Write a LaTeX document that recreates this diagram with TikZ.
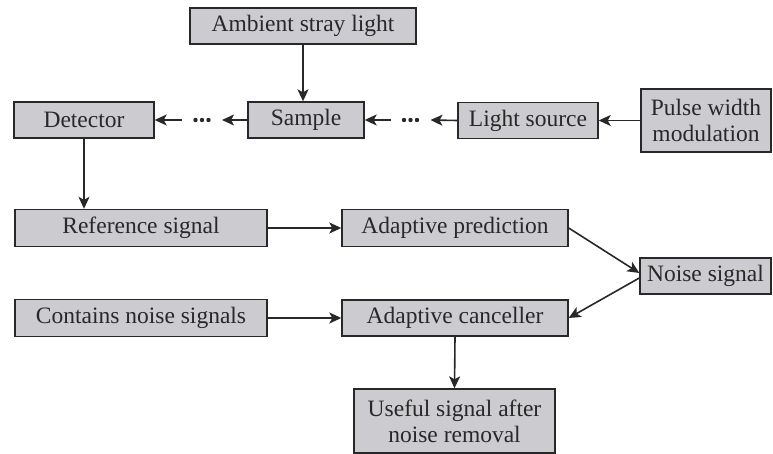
\documentclass[tikz,border=0pt]{standalone}
\usepackage{fontspec}
\setmainfont{Liberation Serif}
\usetikzlibrary{arrows.meta}
\definecolor{boxfill}{RGB}{204,204,208}
\definecolor{ink}{RGB}{40,40,40}
\tikzset{
  box/.style={draw=ink, fill=boxfill, line width=1.4pt, inner sep=0pt, align=center,
    text=ink, font=\fontsize{23.5}{26}\selectfont},
  conn/.style={draw=ink, line width=1.6pt, -{Stealth[length=12pt,width=11pt,inset=3pt]}},
  dotsnode/.style={inner sep=0pt, minimum width=18pt, minimum height=4pt, outer sep=11pt}
}
\begin{document}
\begin{tikzpicture}[x=1pt,y=-1pt]
\useasboundingbox (0,0) rectangle (773,454);
\node[box, minimum width=226, minimum height=36] (amb) at (303,26) {Ambient stray light};
\node[box, minimum width=140, minimum height=36] (det) at (84,120) {Detector};
\node[box, minimum width=116, minimum height=36] (samp) at (306,120) {Sample};
\node[box, minimum width=140, minimum height=36] (ls) at (528,120.5) {Light source};
\node[box, minimum width=130, minimum height=63] (pwm) at (706,120.5) {Pulse width\\modulation};
\node[dotsnode] (d1) at (202,120) {};
\node[dotsnode] (d2) at (410.5,120) {};
\foreach \d in {d1,d2}{
  \fill[ink] (\d.center) circle (2.2);
  \fill[ink] ([xshift=-6.5pt]\d.center) circle (2.2);
  \fill[ink] ([xshift=6.5pt]\d.center) circle (2.2);
}
\node[box, minimum width=252, minimum height=37] (ref) at (141,228) {Reference signal};
\node[box, minimum width=226, minimum height=37] (pred) at (455,228) {Adaptive prediction};
\node[box, minimum width=131, minimum height=36] (noise) at (705.5,276) {Noise signal};
\node[box, minimum width=252, minimum height=37] (cont) at (141,318) {Contains noise signals};
\node[box, minimum width=226, minimum height=36] (canc) at (455,318) {Adaptive canceller};
\node[box, minimum width=201, minimum height=64] (use) at (454.5,421) {Useful signal after\\noise removal};
\draw[conn] (amb.south) -- (amb.south |- samp.north);
\draw[conn] (samp.west) -- (d1.east);
\draw[conn] (d1.west) -- (det.east);
\draw[conn] (ls.west) -- (d2.east);
\draw[conn] (d2.west) -- (samp.east);
\draw[conn] (pwm.west) -- (ls.east);
\draw[conn] (det.south) -- (det.south |- ref.north);
\draw[conn] (ref.east) -- (pred.west);
\draw[conn] (cont.east) -- (canc.west);
\draw[conn] (pred.east) -- ([yshift=3pt]noise.west);
\draw[conn] ([yshift=-2pt]noise.west) -- (canc.east);
\draw[conn] (canc.south) -- (use.north);
\end{tikzpicture}
\end{document}
